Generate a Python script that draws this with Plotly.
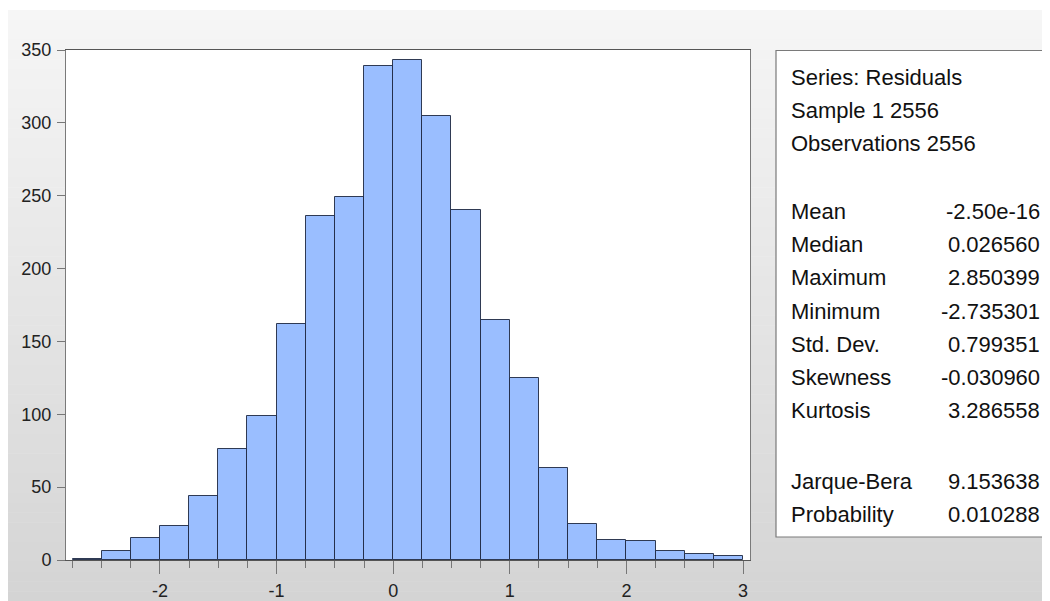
import plotly.graph_objects as go

# ---- data ----
bin_left_edges = [-2.75, -2.5, -2.25, -2.0, -1.75, -1.5, -1.25, -1.0, -0.75, -0.5, -0.25,
                  0.0, 0.25, 0.5, 0.75, 1.0, 1.25, 1.5, 1.75, 2.0, 2.25, 2.5, 2.75]
bin_width = 0.25
counts = [1, 6, 15, 23, 44, 76, 99, 162, 236, 249, 339,
          343, 305, 240, 165, 125, 63, 25, 14, 13, 6, 4, 3]

header_lines = ["Series: Residuals", "Sample 1 2556", "Observations 2556"]
stat_names = ["Mean", "Median", "Maximum", "Minimum", "Std. Dev.", "Skewness", "Kurtosis"]
stat_values = ["-2.50e-16", "0.026560", "2.850399", "-2.735301", "0.799351", "-0.030960", "3.286558"]
test_names = ["Jarque-Bera", "Probability"]
test_values = ["9.153638", "0.010288"]

x_ticks = [-2, -1, 0, 1, 2, 3]
y_ticks = [0, 50, 100, 150, 200, 250, 300, 350]

# ---- layout geometry (figure pixels; page has an 8px body margin) ----
W, H = 1042, 593
L, R, T, B = 58, 742, 42, 552


def px(x):
    return (x - L) / (R - L)


def py(y):
    return (B - y) / (B - T)


centers = [e + bin_width / 2 for e in bin_left_edges]

fig = go.Figure()
fig.add_trace(go.Bar(
    x=centers, y=counts, width=bin_width,
    marker=dict(color="#9ABEFF", line=dict(color="rgba(30,40,65,0.9)", width=1)),
    hoverinfo="x+y", showlegend=False,
))

shapes = []
# gradient background
top_y, bot_y = 2, H
n = 60
c0, c1 = 246, 212
for i in range(n):
    y0 = top_y + (bot_y - top_y) * i / n
    y1 = top_y + (bot_y - top_y) * (i + 1) / n + 0.5
    c = round(c0 + (c1 - c0) * (i + 0.5) / n)
    shapes.append(dict(type="rect", xref="paper", yref="paper", layer="below",
                       x0=px(-2), x1=px(W + 2), y0=py(min(y1, H + 2)), y1=py(y0),
                       fillcolor=f"rgb({c},{c},{c})", line=dict(width=0)))
# plot area white
shapes.append(dict(type="rect", xref="paper", yref="paper", layer="below",
                   x0=0, x1=1, y0=0, y1=1, fillcolor="white", line=dict(width=0)))
# stats box
shapes.append(dict(type="rect", xref="paper", yref="paper", layer="below",
                   x0=px(768), x1=px(W + 5), y0=py(529), y1=py(42.5),
                   fillcolor="white", line=dict(color="#7a7a7a", width=1.2)))

annotations = []
font_stats = dict(family="Liberation Sans, Arial, sans-serif", size=22, color="#111")
LX, RX = 781, 1034


def add_text(txt, x, y, anchor):
    annotations.append(dict(text=txt, x=px(x), y=py(y), xref="paper", yref="paper",
                            xanchor=anchor, yanchor="middle", showarrow=False, font=font_stats))


for txt, y in zip(header_lines, [69, 102, 135]):
    add_text(txt, LX, y, "left")
for name, val, y in zip(stat_names, stat_values, [203, 236, 269, 303, 336, 370, 403]):
    add_text(name, LX, y, "left")
    add_text(val, RX, y, "right")
for name, val, y in zip(test_names, test_values, [473, 506]):
    add_text(name, LX, y, "left")
    add_text(val, RX, y, "right")

tick_font = dict(family="Liberation Sans, Arial, sans-serif", size=18, color="#222")

fig.update_layout(
    width=W, height=H, autosize=False,
    margin=dict(l=L, r=W - R, t=T, b=H - B, pad=0, autoexpand=False),
    paper_bgcolor="white", plot_bgcolor="white",
    shapes=shapes, annotations=annotations,
    bargap=0,
    xaxis=dict(range=[-2.806, 3.06], tickmode="array", tickvals=x_ticks,
               ticktext=[str(t) for t in x_ticks], automargin=False,
               ticks="outside", ticklen=13, tickcolor="#777", tickwidth=1,
               ticklabelstandoff=1,
               minor=dict(dtick=0.25, tick0=0, ticks="outside", ticklen=7,
                          tickcolor="#777", tickwidth=1, showgrid=False),
               showgrid=False, zeroline=False, showline=True, mirror=True,
               linecolor="#555", linewidth=1, tickfont=tick_font, fixedrange=True),
    yaxis=dict(range=[0, 350], tickmode="array", tickvals=y_ticks, automargin=False,
               ticks="outside", ticklen=8, tickcolor="#777", tickwidth=1,
               ticklabelstandoff=2,
               showgrid=False, zeroline=False, showline=True, mirror=True,
               linecolor="#7a7a7a", linewidth=1, tickfont=tick_font, fixedrange=True),
)

fig.write_html("out.html")
